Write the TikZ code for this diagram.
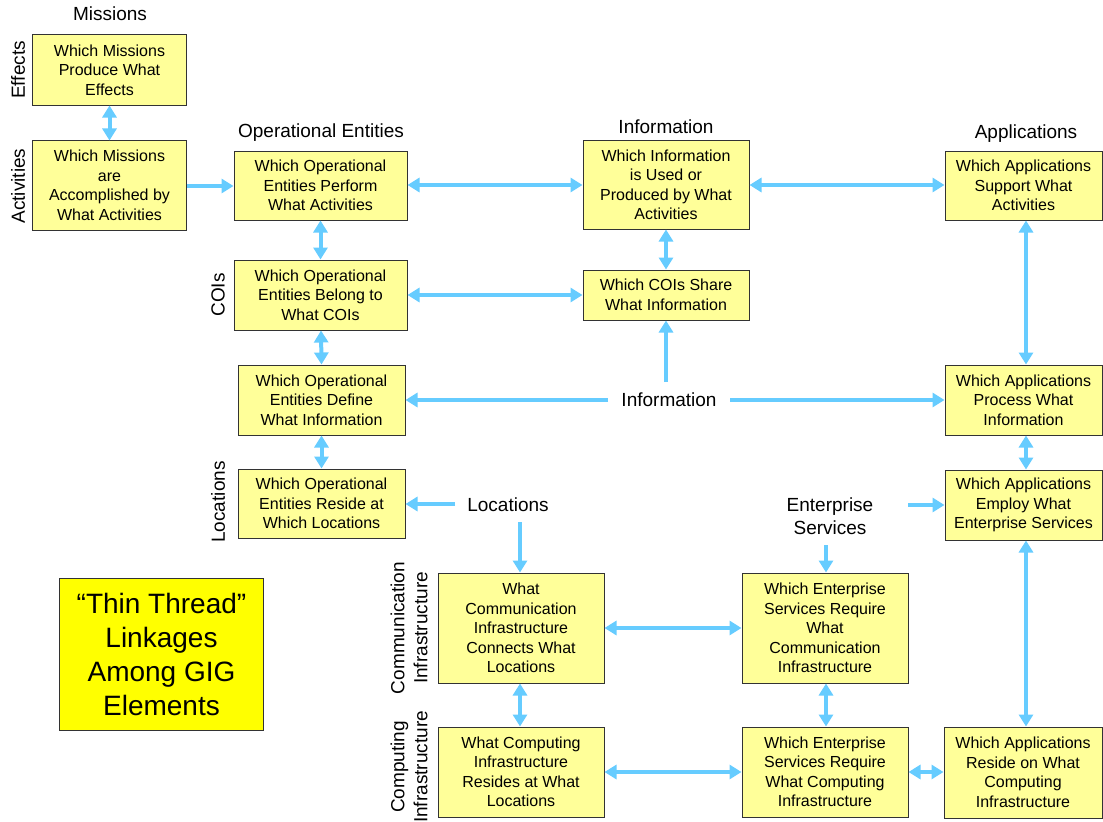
\documentclass[tikz,border=0pt]{standalone}
\usepackage{fontspec}
\setmainfont{Liberation Sans}
\usetikzlibrary{arrows.meta}
\definecolor{boxfill}{HTML}{FFFF99}
\definecolor{flow}{HTML}{66CCFF}
\definecolor{thread}{HTML}{FFFF00}
\definecolor{edge}{HTML}{333333}

\begin{document}
\begin{tikzpicture}[x=1bp,y=-1bp,
  box/.style={draw=edge, line width=1bp, fill=boxfill, align=center, inner sep=0pt,
    font=\fontsize{16bp}{19.5bp}\selectfont},
  bx/.style 2 args={box, minimum width=#1, minimum height=#2},
  head/.style={font=\fontsize{19bp}{23bp}\selectfont, align=center, inner sep=0pt},
  side/.style={head, rotate=90},
  link/.style={draw=flow, line width=4bp, -{Triangle[length=12bp,width=14bp]}},
  dbl/.style={draw=flow, line width=4bp,
    {Triangle[length=12bp,width=14bp]}-{Triangle[length=12bp,width=14bp]}},
]
\fill[white] (0,0) rectangle (1103,822);
\useasboundingbox (0,0) rectangle (1103,822);

% column and row headings
\node[head] (hmis) at (110,14) {Missions};
\node[head] (hope) at (321,133) {Operational Entities};
\node[head] (hinf) at (666,127) {Information};
\node[head] (happ) at (1026,134) {Applications};
\node[side] (heff) at (18,70) {Effects};
\node[side] (hact) at (18,186) {Activities};
\node[side] (hcoi) at (218,295) {COIs};
\node[side] (hloc) at (218,502) {Locations};
\node[side] (hcom) at (409,628) {Communication\\Infrastructure};
\node[side] (hcmp) at (409,767) {Computing\\Infrastructure};

% missions column
\node[bx={153bp}{70bp}] (eff) at (109.5,70) {Which Missions\\Produce What\\Effects};
\node[bx={153bp}{89bp}] (act) at (109.5,185.5) {Which Missions\\are\\Accomplished by\\What Activities};

% operational entities column
\node[bx={173bp}{69bp}] (oeperf) at (320.5,185.5) {Which Operational\\Entities Perform\\What Activities};
\node[bx={173bp}{70bp}] (oecoi) at (320.5,295) {Which Operational\\Entities Belong to\\What COIs};
\node[bx={167bp}{70bp}] (oedef) at (321.5,400) {Which Operational\\Entities Define\\What Information};
\node[bx={167bp}{69bp}] (oeres) at (321.5,503.5) {Which Operational\\Entities Reside at\\Which Locations};

% information column
\node[bx={166bp}{88bp}] (info) at (666,185) {Which Information\\is Used or\\Produced by What\\Activities};
\node[bx={166bp}{50bp}] (coish) at (666,295) {Which COIs Share\\What Information};

% applications column
\node[bx={157bp}{69bp}] (appsup) at (1023.5,185.5) {Which Applications\\Support What\\Activities};
\node[bx={157bp}{70bp}] (appproc) at (1023.5,400) {Which Applications\\Process What\\Information};
\node[bx={157bp}{70bp}] (appemp) at (1023.5,505) {Which Applications\\Employ What\\Enterprise Services};
\node[bx={158bp}{91bp}] (appres) at (1023,772.5) {Which Applications\\Reside on What\\Computing\\Infrastructure};

% infrastructure rows
\node[bx={166bp}{110bp}] (comm) at (521,628) {What\\Communication\\Infrastructure\\Connects What\\Locations};
\node[bx={166bp}{110bp}] (escomm) at (825,628) {Which Enterprise\\Services Require\\What\\Communication\\Infrastructure};
\node[bx={166bp}{90bp}] (comp) at (521,772) {What Computing\\Infrastructure\\Resides at What\\Locations};
\node[bx={166bp}{90bp}] (escomp) at (825,772) {Which Enterprise\\Services Require\\What Computing\\Infrastructure};

% free-standing labels
\node[head] (infomid) at (669,400) {Information};
\node[head] (locmid) at (508,505) {Locations};
\node[head] (esmid) at (830,516) {Enterprise\\Services};

% title panel
\node[draw=edge, line width=1bp, fill=thread, minimum width=203bp, minimum height=152bp,
  align=center, inner sep=0pt, font=\fontsize{28bp}{34bp}\selectfont] (thin) at (161.5,654)
  {“Thin Thread”\\Linkages\\Among GIG\\Elements};

% connector end points next to the free labels
\coordinate (infoL) at (608,400);
\coordinate (infoU) at (666,382);
\coordinate (infoR) at (730,400);
\coordinate (locL) at (455,504);
\coordinate (locD) at (520,522);
\coordinate (esR) at (908,505);
\coordinate (esD) at (826,545);

% links
\draw[dbl] (eff.south) -- (act.north);
\draw[link] (act.east |- 0,186) -- (oeperf.west |- 0,186);
\draw[dbl] (oeperf.east |- 0,185) -- (info.west |- 0,185);
\draw[dbl] (info.east |- 0,185) -- (appsup.west |- 0,185);
\draw[dbl] (oeperf.south) -- (oecoi.north);
\draw[dbl] (info.south) -- (coish.north);
\draw[dbl] (oecoi.east) -- (coish.west);
\draw[dbl] (oecoi.south -| 321,0) -- (oedef.north);
\draw[dbl] (oedef.south) -- (oeres.north);
\draw[link] (infoL) -- (oedef.east);
\draw[link] (infoU) -- (coish.south);
\draw[link] (infoR) -- (appproc.west);
\draw[dbl] (appsup.south -| 1026,0) -- (appproc.north -| 1026,0);
\draw[dbl] (appproc.south -| 1026,0) -- (appemp.north -| 1026,0);
\draw[dbl] (appemp.south -| 1026,0) -- (appres.north -| 1026,0);
\draw[link] (locL) -- (oeres.east |- locL);
\draw[link] (locD) -- (comm.north -| locD);
\draw[link] (esR) -- (appemp.west |- esR);
\draw[link] (esD) -- (escomm.north -| esD);
\draw[dbl] (comm.east) -- (escomm.west);
\draw[dbl] (comm.south -| 520,0) -- (comp.north -| 520,0);
\draw[dbl] (escomm.south -| 826,0) -- (escomp.north -| 826,0);
\draw[dbl] (comp.east) -- (escomp.west);
\draw[dbl] (escomp.east) -- (appres.west |- escomp.east);
\end{tikzpicture}
\end{document}
